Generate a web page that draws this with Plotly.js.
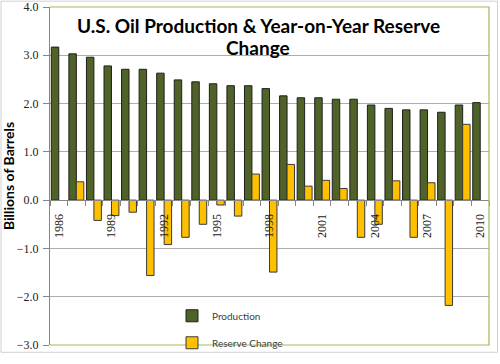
<!DOCTYPE html>
<html>
<head>
<meta charset="utf-8">
<script src="https://cdn.plot.ly/plotly-3.0.1.min.js"></script>
<style>html,body{margin:0;padding:0;background:#fff;}#chart{width:500px;height:364px;}</style>
</head>
<body>
<div id="chart"></div>
<script>
const years = [1986,1987,1988,1989,1990,1991,1992,1993,1994,1995,1996,1997,1998,1999,2000,2001,2002,2003,2004,2005,2006,2007,2008,2009,2010];
const production = [3.17,3.03,2.96,2.78,2.71,2.71,2.63,2.49,2.45,2.41,2.37,2.37,2.31,2.16,2.12,2.12,2.09,2.09,1.97,1.90,1.87,1.87,1.82,1.97,2.02];
const reserveChange = [null,0.38,-0.42,-0.32,-0.25,-1.56,-0.92,-0.77,-0.50,-0.10,-0.33,0.54,-1.49,0.74,0.29,0.41,0.24,-0.77,-0.50,0.40,-0.77,0.36,-2.18,1.57,null];
const labelYears = [1986,1989,1992,1995,1998,2001,2004,2007,2010];
const yTicks = [-3,-2,-1,0,1,2,3,4];
const titleLines = ['U.S. Oil Production & Year-on-Year Reserve', 'Change'];

const traces = [
  {type:'bar', name:'Production', x:years, y:production, legendgroup:'a',
   marker:{color:'#4F6228', line:{color:'#1f1f1f', width:1}}},
  {type:'bar', name:'Reserve Change', x:years, y:reserveChange, legendgroup:'b',
   marker:{color:'#FFC000', line:{color:'#3a3a3a', width:1}}}
];

const px = v => (v-50)/439;
const py = v => (355-v)/348;

const layout = {
  width:500, height:364,
  margin:{l:50, r:11, t:7, b:9},
  paper_bgcolor:'#fff', plot_bgcolor:'#fff',
  barmode:'group', bargap:0.15, bargroupgap:0,
  showlegend:true,
  legend:{x:px(172), y:py(310), xanchor:'left', yanchor:'top', tracegroupgap:8,
    bgcolor:'rgba(0,0,0,0)', font:{family:'Lato', size:10, color:'#404040'}},
  xaxis:{type:'linear', range:[1985.5,2010.5], anchor:'free', position:3/7,
    tickmode:'array', tickvals:labelYears, ticktext:labelYears.map(String),
    ticks:'', tickangle:-90, ticklabelstandoff:8,
    tickfont:{family:'Liberation Serif', size:12, color:'#222'},
    showgrid:false, zeroline:false, showline:true, linecolor:'#868686', linewidth:1,
    minor:{tickmode:'linear', tick0:1985.5, dtick:1, ticks:'outside', ticklen:5, tickcolor:'#868686', showgrid:false}},
  yaxis:{range:[-3,4], tickmode:'array', tickvals:yTicks, tickformat:'.1f',
    showgrid:true, gridcolor:'#ADADAD', gridwidth:1, zeroline:false,
    showline:true, linecolor:'#868686', ticks:'outside', ticklen:6, tickcolor:'#868686',
    ticklabelstandoff:2,
    tickfont:{family:'Liberation Serif', size:12, color:'#222'},
    title:{text:'Billions of Barrels', standoff:3, font:{family:'Lato', size:14, weight:'bold', color:'#000'}}},
  annotations:[
    {xref:'paper', yref:'paper', x:px(258), y:py(26), xanchor:'center', yanchor:'middle',
     text:titleLines[0], showarrow:false,
     font:{family:'Lato', size:19, weight:'bold', color:'#000'}},
    {xref:'paper', yref:'paper', x:px(258), y:py(49), xanchor:'center', yanchor:'middle',
     text:titleLines[1], showarrow:false,
     font:{family:'Lato', size:19, weight:'bold', color:'#000'}}
  ],
  shapes:[
    {type:'path', xref:'paper', yref:'paper', path:'M0,1 L1,1 L1,0 L0,0', layer:'above',
     line:{color:'#9BBB59', width:1.2}},
    {type:'rect', xref:'paper', yref:'paper', x0:px(1), x1:px(497.5), y0:py(362.5), y1:py(1),
     line:{color:'#D0D0D0', width:1}}
  ]
};

Plotly.newPlot('chart', traces, layout, {displayModeBar:false, staticPlot:true});
</script>
</body>
</html>
